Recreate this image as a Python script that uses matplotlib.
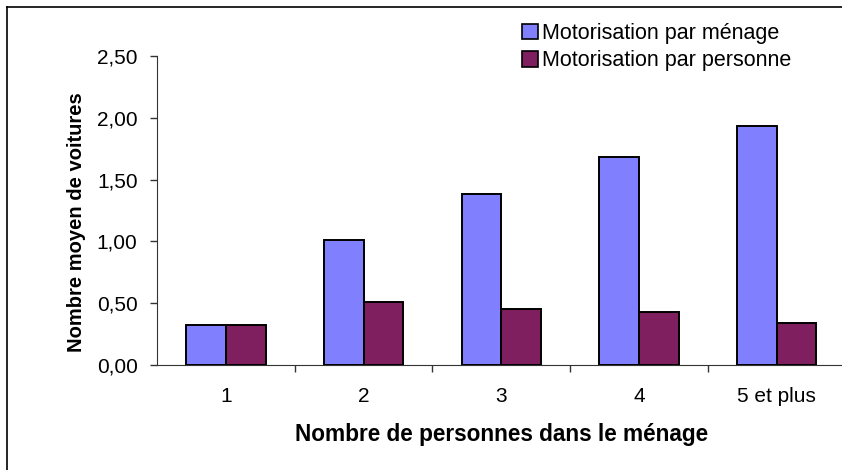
import matplotlib
matplotlib.use("Agg")
import matplotlib.pyplot as plt
from matplotlib.patches import Patch
from matplotlib.lines import Line2D
import numpy as np

categories = ["1", "2", "3", "4", "5 et plus"]
menage = [0.32, 1.01, 1.38, 1.68, 1.93]
personne = [0.32, 0.51, 0.45, 0.43, 0.34]
yticks = [0.0, 0.5, 1.0, 1.5, 2.0, 2.5]
ytick_labels = ["0,00", "0,50", "1,00", "1,50", "2,00", "2,50"]

plt.rcParams['font.family'] = ['Liberation Sans', 'DejaVu Sans']

W, H = 842, 470
fig = plt.figure(figsize=(W / 100, H / 100), dpi=100)
ax = fig.add_axes([157 / W, 1 - 365 / H, 688.5 / W, 309 / H])

x = np.arange(len(categories))
bw = 0.288
c1 = "#8080FF"
c2 = "#7F1F5F"
ax.bar(x - bw / 2, menage, width=bw, color=c1, edgecolor="black", linewidth=1.4, zorder=3)
ax.bar(x + bw / 2, personne, width=bw, color=c2, edgecolor="black", linewidth=1.4, zorder=3)

ax.set_xlim(-0.5, len(categories) - 0.5)
ax.set_ylim(0, 2.5)
ax.set_yticks(yticks)
ax.set_yticklabels(ytick_labels, fontsize=15)
ax.set_xticks(x)
ax.set_xticklabels(categories, fontsize=15)
ax.tick_params(axis='x', length=0, pad=16)
ax.set_xticks(np.arange(len(categories) - 1) + 0.5, minor=True)
ax.tick_params(axis='x', which='minor', length=5, width=1, color="#333333", direction='out')
ax.tick_params(axis='y', length=5, width=1, color="#333333", direction='out', pad=9)

for s in ["top", "right"]:
    ax.spines[s].set_visible(False)
ax.spines["left"].set_color("#333333")
ax.spines["bottom"].set_color("#333333")

ax.set_xlabel("Nombre de personnes dans le ménage", fontsize=16.3, fontweight="bold")
ax.set_ylabel("Nombre moyen de voitures", fontsize=14.5, fontweight="bold")
ax.xaxis.set_label_coords((502 - 157) / 688.5, -(435 - 365) / 309)
ax.xaxis.label.set_va("center")
ax.yaxis.set_label_coords(-(157 - 76) / 688.5, (365 - 222) / 309)
ax.yaxis.label.set_va("center")

handles = [Patch(facecolor=c1, edgecolor="black", linewidth=1.2),
           Patch(facecolor=c2, edgecolor="black", linewidth=1.2)]
leg = fig.legend(handles, ["Motorisation par ménage", "Motorisation par personne"],
                 loc="upper left", bbox_to_anchor=(522 / W, 1 - 23 / H), frameon=False,
                 fontsize=15.5, handlelength=0.72, handleheight=0.72, handletextpad=0.2,
                 labelspacing=0.3, borderaxespad=0, borderpad=0)

fig.add_artist(Line2D([7 / W, 7 / W], [0, 1 - 7 / H], transform=fig.transFigure, color="black", lw=1.2))
fig.add_artist(Line2D([7 / W, 1], [1 - 7 / H, 1 - 7 / H], transform=fig.transFigure, color="black", lw=1.2))

fig.savefig("out.png", dpi=100)
